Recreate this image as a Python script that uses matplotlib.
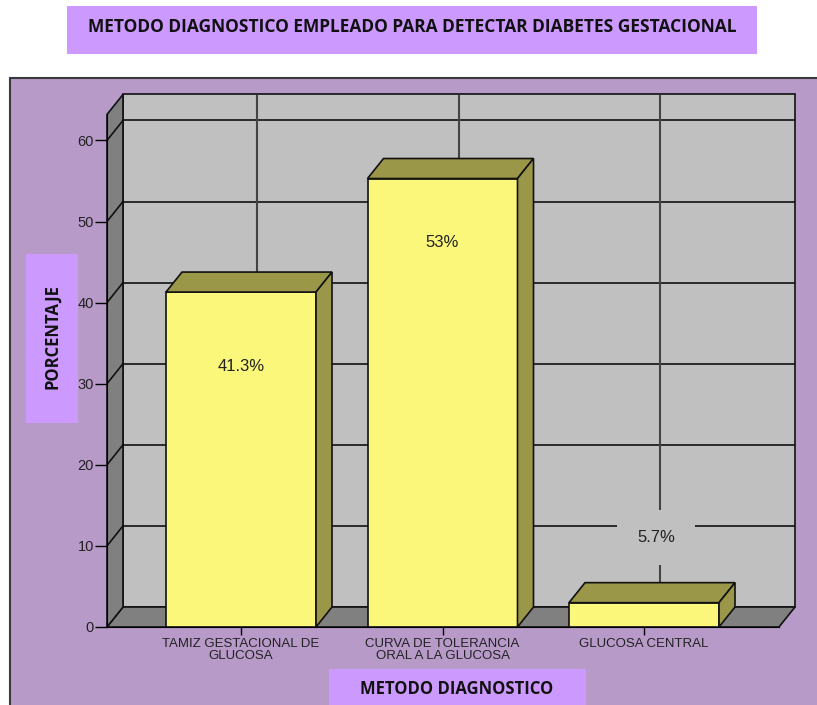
import numpy as np
import matplotlib.pyplot as plt
from matplotlib.patches import Rectangle, Polygon

# data
categorias = ["TAMIZ GESTACIONAL DE\nGLUCOSA", "CURVA DE TOLERANCIA\nORAL A LA GLUCOSA", "GLUCOSA CENTRAL"]
alturas = [41.3, 55.3, 3.0]          # bar heights as drawn
etiquetas = ["41.3%", "53%", "5.7%"]  # labels as printed
yticks = [0, 10, 20, 30, 40, 50, 60]

titulo = "METODO DIAGNOSTICO EMPLEADO PARA DETECTAR DIABETES GESTACIONAL"
xlabel = "METODO DIAGNOSTICO"
ylabel = "PORCENTAJE"

W, H = 817, 705
plt.rcParams['font.family'] = ['Liberation Sans', 'DejaVu Sans']

fig = plt.figure(figsize=(W / 100, H / 100), dpi=100)
fig.patch.set_facecolor('white')


def px(x, y):
    # pixel (top-left origin) -> figure fraction
    return x / W, 1 - y / H


# purple panel behind chart
fig.add_artist(Rectangle(px(10, 78), 1.2, -1.2, transform=fig.transFigure,
                         facecolor='#B89AC9', edgecolor='#3a3a3a', lw=1.5, zorder=0))

# boxes for title and axis labels
def caja(x0, y0, x1, y1):
    fx0, fy1 = px(x0, y0)
    fx1, fy0 = px(x1, y1)
    fig.add_artist(Rectangle((fx0, fy0), fx1 - fx0, fy1 - fy0, transform=fig.transFigure,
                             facecolor='#CC99FF', edgecolor='none', zorder=1))

caja(67, 6, 757, 54)
caja(26, 254, 78, 423)
caja(329, 669, 586, 710)

bold = dict(family=['Open Sans', 'DejaVu Sans'], fontweight='bold', color='#111111', zorder=2)
fig.text(*px(412, 27), titulo, ha='center', va='center', fontsize=12.5, **bold)
fig.text(*px(52, 337), ylabel, ha='center', va='center', rotation=90, fontsize=12, **bold)
fig.text(*px(457, 689), xlabel, ha='center', va='center', fontsize=12, **bold)

# chart axes: front plane, with room for the depth
ppx = 201.5   # pixels per category
ppy = 8.11    # pixels per unit
X0 = -134 / ppx
X1 = 2 + 135 / ppx
DX, DY = 16 / ppx, 20 / ppy
YTOP = 63.2

l, b = px(107, 627)
ax = fig.add_axes([l, b, 688 / W, 532 / H])
ax.set_xlim(X0, X0 + 688 / ppx)
ax.set_ylim(0, 532 / ppy)
ax.patch.set_alpha(0)

# walls
ax.add_patch(Rectangle((X0 + DX, DY), X1 - X0, YTOP, facecolor='#C0C0C0',
                       edgecolor='#111111', lw=1.2, zorder=1, clip_on=False))
ax.add_patch(Polygon([(X0, 0), (X1, 0), (X1 + DX, DY), (X0 + DX, DY)],
                     facecolor='#808080', edgecolor='#111111', lw=1.2, zorder=1, clip_on=False))
ax.add_patch(Polygon([(X0, 0), (X0, YTOP), (X0 + DX, YTOP + DY), (X0 + DX, DY)],
                     facecolor='#808080', edgecolor='#111111', lw=1.2, zorder=1, clip_on=False))

# grid
for v in yticks[1:]:
    ax.plot([X0 + DX, X1 + DX], [v + DY, v + DY], color='#111111', lw=1.2, zorder=2)
    ax.plot([X0, X0 + DX], [v, v + DY], color='#111111', lw=1.2, zorder=2)
for i in range(len(categorias)):
    ax.plot([i + DX, i + DX], [DY, YTOP + DY], color='#444444', lw=1.5, zorder=2)

# bars
bw = 150 / ppx
cara, lado = '#FAF77A', '#9A9848'
for i, v in enumerate(alturas):
    a, c = i - bw / 2, i + bw / 2
    ax.add_patch(Rectangle((a, 0), bw, v, facecolor=cara, edgecolor='#111111', lw=1.2, zorder=3))
    ax.add_patch(Polygon([(a, v), (c, v), (c + DX, v + DY), (a + DX, v + DY)],
                         facecolor=lado, edgecolor='#111111', lw=1.2, zorder=3))
    ax.add_patch(Polygon([(c, 0), (c, v), (c + DX, v + DY), (c + DX, DY)],
                         facecolor=lado, edgecolor='#111111', lw=1.2, zorder=3))

# value labels
ax.text(0, alturas[0] - 74 / ppy, etiquetas[0], ha='center', va='center', fontsize=12, color='#222222', zorder=4)
ax.text(1, alturas[1] - 64 / ppy, etiquetas[1], ha='center', va='center', fontsize=12, color='#222222', zorder=4)
ax.text(2 + 12 / ppx, alturas[2] + 65 / ppy, etiquetas[2], ha='center', va='center', fontsize=12,
        color='#222222', zorder=4,
        bbox=dict(boxstyle='square,pad=1.2', facecolor='#C0C0C0', edgecolor='none'))

# axes
for s in ['top', 'right']:
    ax.spines[s].set_visible(False)
ax.spines['left'].set_bounds(0, YTOP)
ax.spines['bottom'].set_bounds(X0, X1)
ax.spines['left'].set_zorder(5)
ax.spines['bottom'].set_zorder(5)
ax.set_yticks(yticks)
ax.set_xticks(range(len(categorias)))
ax.set_xticklabels(categorias, fontsize=9.5, color='#222222', linespacing=1.0)
ax.tick_params(axis='y', direction='out', length=8.5, width=1, pad=1, labelsize=10.5, labelcolor='#222222')
ax.tick_params(axis='x', direction='out', length=6, width=1, pad=2)

fig.savefig('out.png', dpi=100)
